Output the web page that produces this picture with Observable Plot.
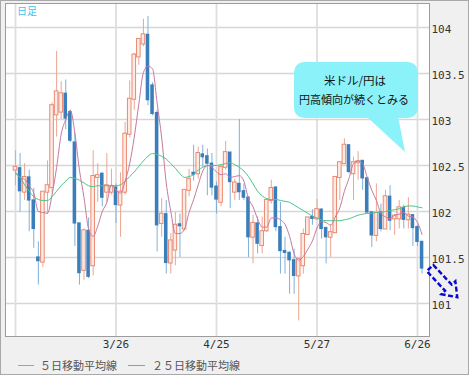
<!DOCTYPE html>
<html><head><meta charset="utf-8">
<script src="https://cdn.jsdelivr.net/npm/d3@7"></script>
<script src="https://cdn.jsdelivr.net/npm/@observablehq/plot@0.6"></script>
<style>
html,body{margin:0;padding:0;background:#fff;}
#wrap{position:relative;width:474px;height:380px;overflow:hidden;}
#panel{position:absolute;left:0;top:0;width:467px;height:373px;background:#f0f0f0;border:1px solid #a9a9a9;}
#chart{position:absolute;left:0;top:0;}
#overlay{position:absolute;left:0;top:0;pointer-events:none;}
.lg-line{position:absolute;height:1px;}
.lg-text{position:absolute;font:11px "Noto Sans CJK JP";color:#555;line-height:14px;}
</style>
</head><body>
<div id="wrap">
  <div id="panel"></div>
  <div id="chart"></div>
  <svg id="overlay" width="474" height="380"></svg>
  <div class="lg-line" style="left:18px;top:365px;width:16px;background:#d08aa6;"></div>
  <div class="lg-text" style="left:40px;top:358px;">５日移動平均線</div>
  <div class="lg-line" style="left:128px;top:365px;width:17px;background:#4cc48a;"></div>
  <div class="lg-text" style="left:152px;top:358px;">２５日移動平均線</div>
</div>
<script>
// Daily USD/JPY candles, 2/24 .. 6/27 (trading-day index)
const open = [102.45,102.47,102.21,102.37,102.12,101.50,101.45,102.21,102.26,103.05,
103.08,103.28,103.08,102.75,101.87,101.36,101.79,101.41,102.37,102.41,
102.21,102.21,102.26,102.07,102.21,102.84,103.22,103.68,103.82,103.92,
103.37,103.07,101.87,101.97,101.44,101.58,101.86,101.81,102.23,102.42,
102.41,102.62,102.60,102.52,102.27,102.10,102.48,102.64,102.21,102.30,
102.22,102.15,101.72,101.87,101.63,101.79,102.12,102.26,101.83,101.57,
101.55,101.47,101.30,101.41,101.75,101.94,101.92,102.02,101.82,101.72,
101.77,102.37,102.52,102.72,102.41,102.53,102.55,102.36,101.99,101.74,
101.99,101.81,102.16,101.92,101.92,102.04,101.91,101.96,101.83,101.67];
const high = [102.66,102.63,102.52,102.45,102.25,101.67,102.21,102.55,103.18,103.74,
103.41,103.43,103.10,102.85,101.87,101.81,101.93,102.66,102.52,102.42,
102.63,102.46,102.30,102.42,102.97,103.42,103.72,103.87,104.09,104.12,
103.40,103.10,102.14,102.12,101.76,101.99,101.97,102.23,102.46,102.72,
102.70,102.72,102.68,102.63,102.32,102.50,102.76,102.64,102.35,103.00,
102.30,102.16,101.96,101.94,101.94,102.14,102.34,102.27,102.10,101.72,
101.56,101.59,101.48,101.81,101.93,102.02,102.13,102.03,101.83,101.86,
102.37,102.53,102.79,102.72,102.59,102.65,102.55,102.37,101.99,102.30,
102.08,102.23,102.28,101.97,102.12,102.07,102.15,101.96,101.85,101.67];
const low = [102.28,101.99,102.12,101.78,101.60,101.20,101.39,101.97,102.20,102.81,
103.00,102.89,102.75,101.62,101.20,101.25,101.27,101.30,102.10,102.05,
102.10,102.18,101.87,101.72,102.18,102.80,103.10,103.59,103.79,103.15,
103.04,101.56,101.72,101.32,101.32,101.41,101.50,101.79,102.16,102.33,
102.35,102.48,102.17,102.17,101.97,102.05,102.45,102.03,102.12,102.12,
102.12,101.50,101.43,101.54,101.54,101.77,102.08,101.78,101.32,101.32,
101.10,101.10,100.81,101.32,101.74,101.85,101.90,101.70,101.43,101.50,
101.76,102.12,102.51,102.41,102.12,102.34,102.23,101.97,101.61,101.67,
101.78,101.81,101.79,101.74,101.81,101.81,101.81,101.62,101.62,101.32];
const close = [102.48,102.22,102.37,102.12,101.81,101.46,102.21,102.28,103.15,103.30,
103.28,103.01,102.77,101.87,101.33,101.79,101.29,102.38,102.39,102.15,
102.28,102.27,102.07,102.21,102.84,103.22,103.70,103.87,103.92,103.21,
103.06,101.85,101.97,101.44,101.68,101.85,101.84,102.23,102.35,102.40,
102.63,102.59,102.52,102.26,102.13,102.48,102.64,102.32,102.31,102.21,
102.15,101.72,101.87,101.65,101.78,102.12,102.25,101.83,101.57,101.55,
101.47,101.30,101.48,101.75,101.93,101.92,102.02,101.81,101.72,101.77,
102.37,102.53,102.72,102.43,102.53,102.54,102.36,101.99,101.74,101.98,
101.81,102.16,101.90,101.95,102.04,101.91,101.96,101.82,101.67,101.38];
// 5-day moving average
const ma5 = [102.43,102.37,102.35,102.28,102.20,102.00,101.99,101.98,102.18,102.48,
102.84,103.00,103.10,102.85,102.45,102.15,101.81,101.73,101.84,102.00,
102.10,102.29,102.23,102.20,102.33,102.52,102.81,103.17,103.51,103.58,
103.55,103.18,102.80,102.31,102.00,101.76,101.76,101.81,101.99,102.13,
102.29,102.44,102.50,102.48,102.43,102.40,102.41,102.37,102.38,102.39,
102.33,102.14,102.05,101.92,101.83,101.83,101.93,101.93,101.91,101.86,
101.73,101.54,101.47,101.51,101.59,101.68,101.82,101.89,101.88,101.85,
101.94,102.04,102.22,102.36,102.52,102.55,102.52,102.37,102.23,102.12,
101.98,101.94,101.92,101.96,101.97,101.99,101.95,101.94,101.88,101.75];
// 25-day moving average
const ma25 = [102.41,102.37,102.29,102.22,102.16,102.13,102.12,102.12,102.16,102.22,
102.28,102.33,102.37,102.36,102.34,102.31,102.28,102.27,102.28,102.28,
102.28,102.28,102.28,102.29,102.33,102.38,102.43,102.49,102.55,102.60,
102.63,102.62,102.60,102.57,102.52,102.47,102.41,102.37,102.38,102.40,
102.45,102.48,102.50,102.50,102.50,102.51,102.52,102.53,102.51,102.48,
102.44,102.38,102.30,102.22,102.17,102.14,102.13,102.13,102.12,102.11,
102.10,102.07,102.04,102.01,101.98,101.95,101.93,101.91,101.90,101.90,
101.90,101.90,101.91,101.92,101.94,101.96,101.97,101.98,101.98,101.99,
101.99,102.00,102.01,102.02,102.03,102.05,102.06,102.06,102.05,102.04];
const xTickIdx = [0, 22, 44, 66, 88];
const xTickLabels = ["", "3/26", "4/25", "5/27", "6/26"];
const yTicks = [101, 101.5, 102, 102.5, 103, 103.5, 104];
const yTickLabels = ["101", "101.5", "102", "102.5", "103", "103.5", "104"];
const seriesNames = ["５日移動平均線", "２５日移動平均線"];

const rows = open.map((o, i) => ({i, open: o, high: high[i], low: low[i], close: close[i], ma5: ma5[i], ma25: ma25[i]}));
const up = rows.filter(d => d.close >= d.open);
const down = rows.filter(d => d.close < d.open);
const hw = 0.39;

const chart = Plot.plot({
  width: 474, height: 352,
  marginLeft: 5, marginRight: 45, marginTop: 3, marginBottom: 16,
  style: {background: "transparent", overflow: "visible"},
  x: {type: "linear", domain: [-2.19, 90.63], axis: null},
  y: {type: "linear", domain: [100.641, 104.261], axis: null},
  marks: [
    Plot.frame({fill: "white", stroke: null}),
    Plot.ruleY(yTicks, {stroke: "#d6d6d6", strokeWidth: 1.3}),
    Plot.ruleX(xTickIdx, {stroke: "#dedede", strokeWidth: 1.8}),
    Plot.ruleX(down, {x: "i", y1: "low", y2: "high", stroke: "#7fb1d9", strokeWidth: 1}),
    Plot.ruleX(up, {x: "i", y1: "low", y2: "high", stroke: "#eda591", strokeWidth: 1}),
    Plot.rect(down, {x1: d => d.i - hw, x2: d => d.i + hw, y1: "open", y2: "close", fill: "#3a7fbb", insetTop: -0.6, insetBottom: -0.6}),
    Plot.rect(up, {x1: d => d.i - hw, x2: d => d.i + hw, y1: "open", y2: "close", fill: "#fdebe5", stroke: "#ea8a71", strokeWidth: 1, insetTop: -0.5, insetBottom: -0.5}),
    Plot.line(rows, {x: "i", y: "ma25", stroke: "#4cc48a", strokeWidth: 1, curve: "monotone-x"}),
    Plot.line(rows, {x: "i", y: "ma5", stroke: "#c7789f", strokeWidth: 1, curve: "monotone-x"}),
    Plot.frame({stroke: "#9c9c9c", strokeWidth: 1}),
    Plot.text(yTicks, {y: d => d, text: (d, k) => yTickLabels[k], frameAnchor: "right", textAnchor: "start", dx: 2, dy: 2, fontFamily: "DejaVu Sans Mono", fontSize: 11, fill: "#333"}),
    Plot.text(xTickIdx, {x: d => d, text: (d, k) => xTickLabels[k], frameAnchor: "bottom", dy: 11, fontFamily: "DejaVu Sans Mono", fontSize: 11, fill: "#333"})
  ]
});
document.getElementById("chart").appendChild(chart);

// annotations
const ov = d3.select("#overlay");
ov.append("text").attr("x", 17).attr("y", 12).attr("dominant-baseline", "middle")
  .attr("font-family", "Noto Sans CJK JP").attr("font-size", 10).attr("fill", "#3fc4f0").text("日足");
ov.append("rect").attr("x", 294).attr("y", 62).attr("width", 124).attr("height", 56).attr("rx", 10).attr("fill", "#8cf2fa");
ov.append("polygon").attr("points", "366,116 398,116 405,152").attr("fill", "#8cf2fa");
ov.append("text").attr("x", 355).attr("y", 82).attr("text-anchor", "middle").attr("dominant-baseline", "middle")
  .attr("font-family", "Noto Sans CJK JP").attr("font-size", 11.5).attr("fill", "#111").text("米ドル/円は");
ov.append("text").attr("x", 354).attr("y", 101).attr("text-anchor", "middle").attr("dominant-baseline", "middle")
  .attr("font-family", "Noto Sans CJK JP").attr("font-size", 11).attr("fill", "#111").text("円高傾向が続くとみる");
ov.append("path")
  .attr("d", "M0,-4.5 L27,-4.5 L27,-9.5 L40,0 L27,9.5 L27,4.5 L0,4.5 Z")
  .attr("transform", "translate(430,268) rotate(47)")
  .attr("fill", "none").attr("stroke", "#0a0acc").attr("stroke-width", 2.4).attr("stroke-dasharray", "5,2.5");
</script>
</body></html>
